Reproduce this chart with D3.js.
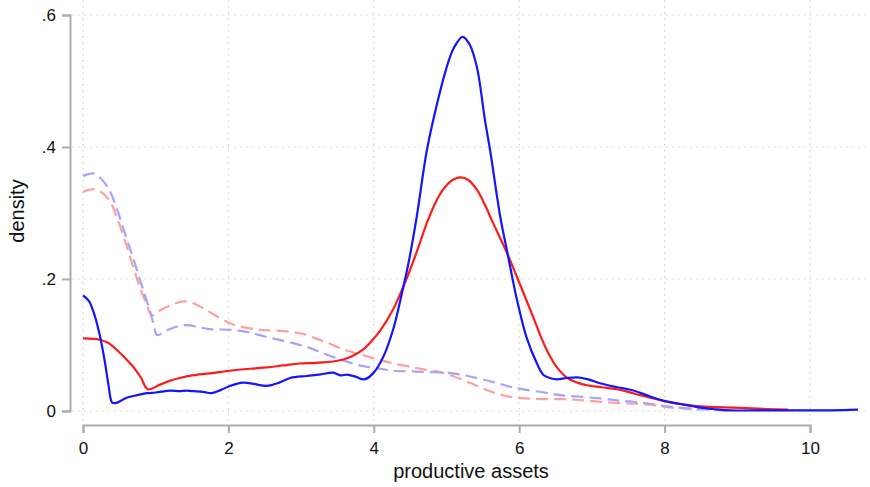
<!DOCTYPE html>
<html>
<head>
<meta charset="utf-8">
<script src="https://cdn.jsdelivr.net/npm/d3@7"></script>
<style>
  body { margin: 0; background: #fff; }
  svg { display: block; font-family: "Liberation Sans", Arial, sans-serif; }
  .axis path, .axis line { stroke: #ababab; stroke-width: 2; }
  .axis text { font-size: 17px; fill: #111; }
  .grid line { stroke: #cfcfcf; stroke-width: 1.2; stroke-dasharray: 1.5,4.5; }
</style>
</head>
<body>
<script>
// Kernel density estimates of productive assets
const blueSolid = [
    [0, .175], [.08, .167], [.16, .145], [.23, .115], [.3, .075], [.35, .04], [.4, .013], [.45, .012],
    [.6, .02], [.75, .024], [.88, .027], [1.0, .028], [1.2, .031], [1.33, .03], [1.42, .031], [1.51, .03],
    [1.65, .029], [1.77, .027], [1.9, .032], [2.02, .038], [2.2, .043], [2.35, .041], [2.53, .038],
    [2.7, .043], [2.85, .05], [3.08, .053], [3.25, .055], [3.44, .058], [3.55, .054], [3.63, .055],
    [3.75, .052], [3.87, .048], [3.99, .057], [4.13, .082], [4.27, .125], [4.4, .185], [4.47, .22],
    [4.59, .294], [4.73, .395], [4.88, .47], [5.0, .52], [5.1, .55], [5.22, .567], [5.32, .555],
    [5.42, .52], [5.53, .44], [5.6, .395], [5.74, .294], [5.83, .244], [5.97, .168], [6.1, .112],
    [6.24, .073], [6.33, .055], [6.42, .05], [6.52, .048], [6.65, .05], [6.8, .051], [6.95, .048],
    [7.11, .042], [7.35, .036], [7.57, .031], [7.75, .024], [7.94, .017], [8.1, .013], [8.31, .009],
    [8.5, .005], [8.67, .003], [8.9, .001], [9.5, .001], [10.0, .001], [10.3, .001], [10.66, .002]
];
const redSolid = [
    [0, .11], [.23, .108], [.35, .103], [.47, .092], [.6, .078], [.69, .067], [.8, .05], [.89, .033],
    [1.06, .04], [1.2, .046], [1.33, .05], [1.5, .054], [1.75, .057], [2.02, .061], [2.3, .064],
    [2.53, .066], [2.75, .069], [2.98, .072], [3.2, .073], [3.44, .075], [3.58, .078], [3.7, .083],
    [3.85, .093], [3.97, .106], [4.09, .122], [4.27, .155], [4.4, .187], [4.5, .214], [4.6, .244],
    [4.73, .285], [4.85, .316], [4.95, .335], [5.07, .349], [5.19, .354], [5.3, .35], [5.42, .335],
    [5.53, .312], [5.64, .285], [5.83, .24], [6.01, .192], [6.19, .143], [6.3, .112], [6.4, .088],
    [6.52, .066], [6.66, .05], [6.8, .043], [6.93, .039], [7.14, .036], [7.34, .033], [7.5, .029],
    [7.66, .024], [7.85, .019], [8.03, .014], [8.25, .01], [8.49, .007], [8.7, .006], [8.94, .005],
    [9.2, .004], [9.4, .003], [9.7, .002]
];
const blueDashed = [
    [0, .356], [.07, .359], [.14, .36], [.25, .352], [.37, .333], [.47, .305], [.58, .268], [.68, .235],
    [.78, .2], [.85, .176], [.92, .152], [.97, .132], [1.02, .115], [1.15, .122], [1.3, .128], [1.43, .13],
    [1.6, .127], [1.75, .124], [2.06, .123], [2.25, .12], [2.43, .115], [2.61, .11], [2.85, .104],
    [3.08, .097], [3.25, .09], [3.44, .082], [3.6, .076], [3.77, .07], [3.9, .067], [4.09, .064],
    [4.27, .061], [4.5, .06], [4.73, .059], [5.09, .057], [5.25, .054], [5.42, .05], [5.6, .045],
    [5.74, .041], [5.9, .036], [6.1, .032], [6.35, .028], [6.56, .024], [6.8, .022], [7.11, .019],
    [7.35, .016], [7.57, .014], [7.8, .011], [8.03, .007], [8.3, .004], [8.6, .002], [8.86, .001]
];
const redDashed = [
    [0, .332], [.08, .335], [.17, .336], [.27, .33], [.37, .318], [.47, .292], [.58, .257], [.68, .222],
    [.78, .188], [.87, .163], [.95, .145], [1.05, .152], [1.2, .16], [1.38, .166], [1.5, .164],
    [1.65, .156], [1.88, .141], [2.02, .133], [2.16, .128], [2.43, .123], [2.61, .122], [2.85, .12],
    [3.02, .117], [3.2, .11], [3.35, .104], [3.5, .097], [3.65, .091], [3.81, .086], [4.09, .077],
    [4.27, .072], [4.5, .067], [4.73, .062], [4.91, .059], [5.09, .053], [5.25, .046], [5.42, .038],
    [5.6, .03], [5.74, .025], [5.9, .021], [6.1, .019], [6.3, .018], [6.56, .018], [6.8, .017],
    [7.11, .014], [7.4, .012], [7.6, .011], [7.85, .009], [8.03, .006], [8.25, .004], [8.5, .002]
];

const xTicks = [0, 2, 4, 6, 8, 10];
const yTicks = [0, 0.2, 0.4, 0.6];

const width = 870, height = 487;

const svg = d3.select("body").append("svg")
    .attr("width", width)
    .attr("height", height);

const x = d3.scaleLinear().domain([0, 10]).range([83, 810]);
const y = d3.scaleLinear().domain([0, 0.6]).range([411, 15]);

// dotted grid over the whole plot region
const grid = svg.append("g").attr("class", "grid");
grid.selectAll(".hgrid")
    .data(yTicks)
    .enter()
    .append("line")
    .attr("x1", 72).attr("x2", 868)
    .attr("y1", d => y(d)).attr("y2", d => y(d));
grid.selectAll(".vgrid")
    .data(xTicks)
    .enter()
    .append("line")
    .attr("x1", d => x(d)).attr("x2", d => x(d))
    .attr("y1", 0).attr("y2", 421);

// axes, Stata style
const yAxis = d3.axisLeft(y)
    .tickValues(yTicks)
    .tickSizeOuter(0)
    .tickSize(8)
    .tickPadding(6)
    .tickFormat(d => d === 0 ? "0" : d3.format(".1f")(d).replace(/^0/, ""));
svg.append("g")
    .attr("class", "axis y-axis")
    .attr("transform", "translate(70,0)")
    .call(yAxis);

const xAxis = d3.axisBottom(x)
    .tickValues(xTicks)
    .tickSizeOuter(0)
    .tickSize(8)
    .tickPadding(9)
    .tickFormat(d3.format("d"));
svg.append("g")
    .attr("class", "axis x-axis")
    .attr("transform", "translate(0,425)")
    .call(xAxis);

svg.selectAll(".axis .tick line").attr("stroke", "#ababab");

// axis titles
svg.append("text")
    .attr("x", 471)
    .attr("y", 478)
    .attr("text-anchor", "middle")
    .style("font-size", "20px")
    .style("fill", "#111")
    .text("productive assets");

svg.append("text")
    .attr("transform", "translate(24,211) rotate(-90)")
    .attr("text-anchor", "middle")
    .style("font-size", "20px")
    .style("fill", "#111")
    .text("density");

// density curves
const line = d3.line()
    .x(d => x(d[0]))
    .y(d => y(d[1]))
    .curve(d3.curveCatmullRom.alpha(0.5));

const series = [
    {data: redDashed, color: "#ffa0a0", dash: "12,6"},
    {data: blueDashed, color: "#a4a4ff", dash: "12,6"},
    {data: redSolid, color: "#ff1a1a", dash: null},
    {data: blueSolid, color: "#1414ff", dash: null}
];

svg.selectAll(".curve")
    .data(series)
    .enter()
    .append("path")
    .attr("class", "curve")
    .attr("fill", "none")
    .attr("stroke", d => d.color)
    .attr("stroke-width", 2.2)
    .attr("stroke-dasharray", d => d.dash)
    .attr("stroke-linejoin", "round")
    .attr("d", d => line(d.data));
</script>
</body>
</html>
